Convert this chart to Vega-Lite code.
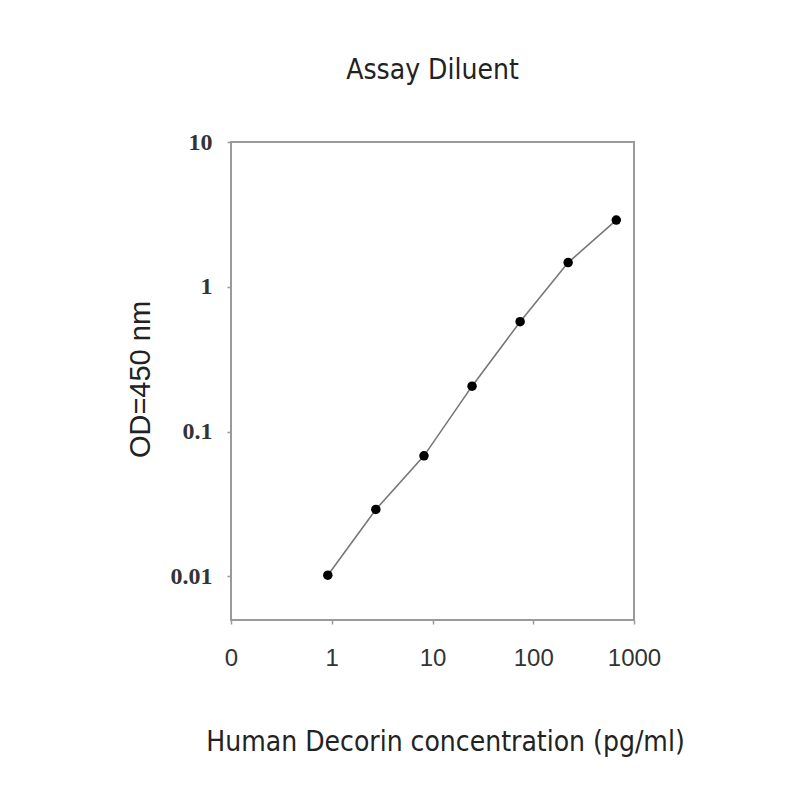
{
  "$schema": "https://vega.github.io/schema/vega-lite/v6.json",
  "autosize": "none",
  "padding": {"left": 231, "top": 142, "right": 166, "bottom": 180},
  "width": 403,
  "height": 478,
  "background": "white",
  "title": {
    "text": "Assay Diluent",
    "font": "Liberation Sans Narrow, DejaVu Sans Condensed, Liberation Sans, sans-serif",
    "fontSize": 28,
    "fontWeight": "normal",
    "color": "#222",
    "anchor": "middle",
    "baseline": "alphabetic",
    "offset": 23
  },
  "config": {
    "view": {"stroke": "#9a9a9a", "strokeWidth": 2},
    "axis": {"grid": false, "domain": false, "tickColor": "#9a9a9a", "tickSize": 4, "tickWidth": 1.5}
  },
  "data": {
    "values": [
      {"conc": 0.914, "od": 0.0102},
      {"conc": 2.74, "od": 0.029},
      {"conc": 8.23, "od": 0.068},
      {"conc": 24.7, "od": 0.206},
      {"conc": 74.1, "od": 0.574},
      {"conc": 222, "od": 1.47},
      {"conc": 667, "od": 2.89}
    ]
  },
  "encoding": {
    "x": {
      "field": "conc",
      "type": "quantitative",
      "scale": {"type": "log", "domain": [0.1, 1000], "nice": false},
      "axis": {
        "values": [0.1, 1, 10, 100, 1000],
        "labelExpr": "datum.value < 0.5 ? '0' : format(datum.value, 'd')",
        "labelFont": "Liberation Sans, sans-serif",
        "labelFontSize": 24,
        "labelColor": "#333",
        "labelPadding": 22,
        "labelFlush": false,
        "title": "Human Decorin concentration (pg/ml)",
        "titleFont": "Liberation Sans Narrow, DejaVu Sans Condensed, Liberation Sans, sans-serif",
        "titleFontSize": 28,
        "titleFontWeight": "normal",
        "titleColor": "#222",
        "titleX": 214,
        "titleY": 130,
        "titleBaseline": "alphabetic"
      }
    },
    "y": {
      "field": "od",
      "type": "quantitative",
      "scale": {"type": "log", "domain": [0.005, 10], "nice": false},
      "axis": {
        "values": [0.01, 0.1, 1, 10],
        "format": "~g",
        "labelFont": "Liberation Serif, serif",
        "labelFontSize": 24,
        "labelFontWeight": "bold",
        "labelColor": "#333",
        "labelPadding": 15,
        "labelFlush": false,
        "title": "OD=450 nm",
        "titleFont": "Liberation Sans, sans-serif",
        "titleFontSize": 29,
        "titleFontWeight": "normal",
        "titleColor": "#222",
        "titleX": -91,
        "titleY": 237,
        "titleBaseline": "middle"
      }
    }
  },
  "layer": [
    {"mark": {"type": "line", "color": "#777", "strokeWidth": 1.6, "interpolate": "linear"}},
    {"mark": {"type": "point", "filled": true, "color": "#000", "size": 90, "opacity": 1}}
  ]
}
